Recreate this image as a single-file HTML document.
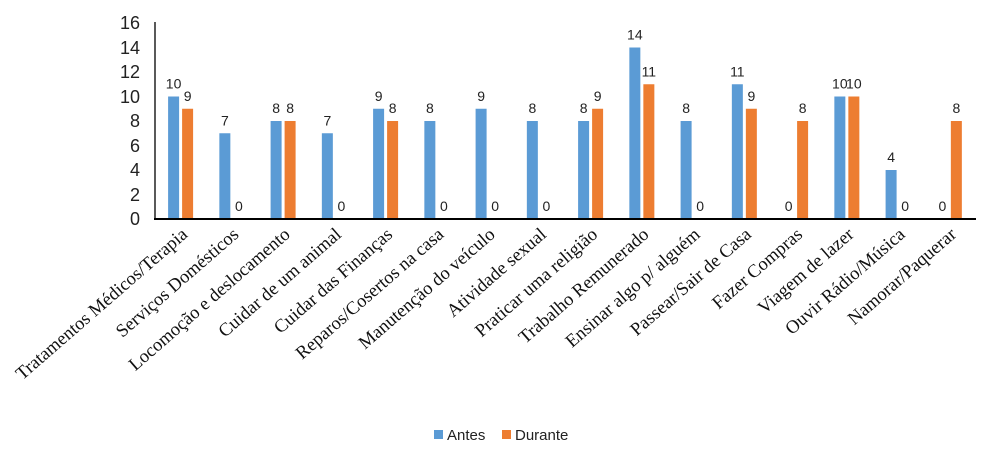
<!DOCTYPE html>
<html><head><meta charset="utf-8"><style>body{margin:0;background:#fff}</style></head><body>
<svg width="1005" height="459" xmlns="http://www.w3.org/2000/svg">
<g font-family="Liberation Sans, sans-serif" font-size="18" fill="#222" text-anchor="end">
<text x="140" y="225">0</text><text x="140" y="201">2</text><text x="140" y="176">4</text><text x="140" y="152">6</text><text x="140" y="127">8</text><text x="140" y="103">10</text><text x="140" y="78">12</text><text x="140" y="54">14</text><text x="140" y="29">16</text>
</g>
<line x1="155" y1="22" x2="155" y2="219" stroke="#000" stroke-width="1.3"/>
<g id="bars"></g>
<line x1="154" y1="219" x2="976" y2="219" stroke="#000" stroke-width="2"/>
<g id="lbl" font-family="Liberation Sans, sans-serif" font-size="14" fill="#222" text-anchor="middle"></g>
<g id="cat" font-family="Liberation Serif, serif" font-size="18.5" fill="#111" text-anchor="end"></g>
<rect x="434" y="430" width="9" height="9" fill="#5b9bd5"/>
<text x="447" y="440" font-family="Liberation Sans, sans-serif" font-size="15" fill="#222">Antes</text>
<rect x="502" y="430" width="9" height="9" fill="#ed7d31"/>
<text x="515" y="440" font-family="Liberation Sans, sans-serif" font-size="15" fill="#222">Durante</text>
</svg>
<script>
var cats=["Tratamentos Médicos/Terapia","Serviços Domésticos","Locomoção e deslocamento","Cuidar de um animal","Cuidar das Finanças","Reparos/Cosertos na casa","Manutenção do veículo","Atividade sexual","Praticar uma religião","Trabalho Remunerado","Ensinar algo p/ alguém","Passear/Sair de Casa","Fazer Compras","Viagem de lazer","Ouvir Rádio/Música","Namorar/Paquerar"];
var a=[10,7,8,7,9,8,9,8,8,14,8,11,0,10,4,0],d=[9,0,8,0,8,0,0,0,9,11,0,9,8,10,0,8];
var ns="http://www.w3.org/2000/svg",B=document.getElementById("bars"),L=document.getElementById("lbl"),C=document.getElementById("cat");
function el(p,t,o,txt){var e=document.createElementNS(ns,t);for(var k in o)e.setAttribute(k,o[k]);if(txt!=null)e.textContent=txt;p.appendChild(e);}
for(var i=0;i<16;i++){var c=155+51.25*i+25.6,s=12.25;
 var xb=c-12.5,xo=c+1.5;
 if(a[i])el(B,"rect",{x:xb,y:219-a[i]*s,width:11,height:a[i]*s,fill:"#5b9bd5"});
 if(d[i])el(B,"rect",{x:xo,y:219-d[i]*s,width:11,height:d[i]*s,fill:"#ed7d31"});
 el(L,"text",{x:xb+5.5,y:219-a[i]*s-8},a[i]);
 el(L,"text",{x:xo+5.5,y:219-d[i]*s-8},d[i]);
 el(C,"text",{x:0,y:0,transform:"translate("+(c+8)+",236) rotate(-41)"},cats[i]);
}
</script>
</body></html>
